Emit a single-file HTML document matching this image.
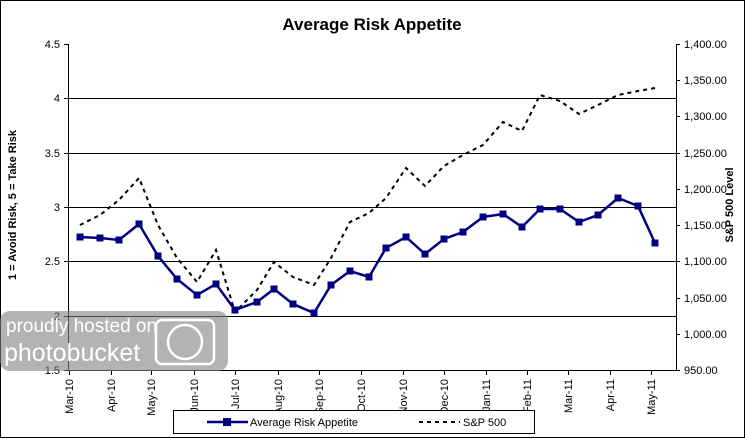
<!DOCTYPE html>
<html><head><style>body{margin:0;background:#fff}svg{display:block}</style></head><body>
<svg width="745" height="438" xmlns="http://www.w3.org/2000/svg" font-family="Liberation Sans, sans-serif">
<rect x="0.5" y="0.5" width="744" height="437" fill="#fff" stroke="#000"/>
<text x="372" y="30" text-anchor="middle" font-size="17" font-weight="bold">Average Risk Appetite</text>
<g stroke="#000" stroke-width="1">
<line x1="68" y1="98.5" x2="676" y2="98.5"/>
<line x1="68" y1="153.5" x2="676" y2="153.5"/>
<line x1="68" y1="207.5" x2="676" y2="207.5"/>
<line x1="68" y1="261.5" x2="676" y2="261.5"/>
<line x1="68" y1="316.5" x2="676" y2="316.5"/>
<line x1="68.5" y1="44" x2="68.5" y2="370"/>
<line x1="676.5" y1="44" x2="676.5" y2="370"/>
<line x1="68" y1="370.5" x2="676" y2="370.5"/>
<path d="M64 44.5h4M64 98.5h4M64 153.5h4M64 207.5h4M64 261.5h4M64 316.5h4M64 370.5h4"/>
<path d="M676 44.5h4M676 80.5h4M676 116.5h4M676 153.5h4M676 189.5h4M676 225.5h4M676 261.5h4M676 298.5h4M676 334.5h4M676 370.5h4"/>
<path d="M69.5 370v5M111.5 370v5M151.5 370v5M194.5 370v5M235.5 370v5M278.5 370v5M319.5 370v5M361.5 370v5M403.5 370v5M444.5 370v5M486.5 370v5M527.5 370v5M568.5 370v5M610.5 370v5M651.5 370v5"/>
</g>
<g font-size="11" text-anchor="end">
<text x="60" y="48">4.5</text><text x="60" y="102">4</text><text x="60" y="157">3.5</text><text x="60" y="211">3</text><text x="60" y="265">2.5</text><text x="60" y="320">2</text><text x="60" y="374">1.5</text>
</g>
<g font-size="11">
<text x="684" y="48">1,400.00</text><text x="684" y="84">1,350.00</text><text x="684" y="120">1,300.00</text><text x="684" y="157">1,250.00</text><text x="684" y="193">1,200.00</text><text x="684" y="229">1,150.00</text><text x="684" y="265">1,100.00</text><text x="684" y="302">1,050.00</text><text x="684" y="338">1,000.00</text><text x="684" y="374">950.00</text>
</g>
<text transform="translate(16,205) rotate(-90)" text-anchor="middle" font-size="11" font-weight="bold">1 = Avoid Risk, 5 = Take Risk</text>
<text transform="translate(733,205) rotate(-90)" text-anchor="middle" font-size="11" font-weight="bold">S&amp;P 500 Level</text>
<g font-size="11" text-anchor="end">
<text transform="translate(73,379) rotate(-90)">Mar-10</text><text transform="translate(115,379) rotate(-90)">Apr-10</text><text transform="translate(155,379) rotate(-90)">May-10</text><text transform="translate(198,379) rotate(-90)">Jun-10</text><text transform="translate(239,379) rotate(-90)">Jul-10</text><text transform="translate(282,379) rotate(-90)">Aug-10</text><text transform="translate(323,379) rotate(-90)">Sep-10</text><text transform="translate(365,379) rotate(-90)">Oct-10</text><text transform="translate(407,379) rotate(-90)">Nov-10</text><text transform="translate(448,379) rotate(-90)">Dec-10</text><text transform="translate(490,379) rotate(-90)">Jan-11</text><text transform="translate(531,379) rotate(-90)">Feb-11</text><text transform="translate(572,379) rotate(-90)">Mar-11</text><text transform="translate(614,379) rotate(-90)">Apr-11</text><text transform="translate(655,379) rotate(-90)">May-11</text>
</g>
<polyline fill="none" stroke="#000" stroke-width="2" stroke-dasharray="4,4" points="80,225 100,215 119,200 139,178 158,225 177,258 197,282 216,250 235,312 257,290 274,262 293,277 314,285 331,258 350,222 369,213 386,198 406,168 425,186 444,166 463,155 483,145 503,122 522,131 540,95 560,101 579,114 598,105 618,95 638,91 655,88"/>
<g fill="#000080">
<polyline fill="none" stroke="#000080" stroke-width="2.5" points="80,237 100,238 119,240 139,224 158,256 177,279 197,295 216,284 235,310 257,302 274,289 293,304 314,313 331,285 350,271 369,277 386,248 406,237 425,254 444,239 463,232 483,217 503,214 522,227 540,209 560,209 579,222 598,215 618,198 638,206 655,243"/>
<g transform="translate(-3.5,-3.5)">
<rect x="80" y="237" width="7" height="7"/><rect x="100" y="238" width="7" height="7"/><rect x="119" y="240" width="7" height="7"/><rect x="139" y="224" width="7" height="7"/><rect x="158" y="256" width="7" height="7"/><rect x="177" y="279" width="7" height="7"/><rect x="197" y="295" width="7" height="7"/><rect x="216" y="284" width="7" height="7"/><rect x="235" y="310" width="7" height="7"/><rect x="257" y="302" width="7" height="7"/><rect x="274" y="289" width="7" height="7"/><rect x="293" y="304" width="7" height="7"/><rect x="314" y="313" width="7" height="7"/><rect x="331" y="285" width="7" height="7"/><rect x="350" y="271" width="7" height="7"/><rect x="369" y="277" width="7" height="7"/><rect x="386" y="248" width="7" height="7"/><rect x="406" y="237" width="7" height="7"/><rect x="425" y="254" width="7" height="7"/><rect x="444" y="239" width="7" height="7"/><rect x="463" y="232" width="7" height="7"/><rect x="483" y="217" width="7" height="7"/><rect x="503" y="214" width="7" height="7"/><rect x="522" y="227" width="7" height="7"/><rect x="540" y="209" width="7" height="7"/><rect x="560" y="209" width="7" height="7"/><rect x="579" y="222" width="7" height="7"/><rect x="598" y="215" width="7" height="7"/><rect x="618" y="198" width="7" height="7"/><rect x="638" y="206" width="7" height="7"/><rect x="655" y="243" width="7" height="7"/>
</g></g>
<rect x="0" y="311" width="228" height="60" rx="10" fill="#808080" fill-opacity="0.6"/>
<text x="6" y="332" font-size="19" fill="#fff">proudly hosted on</text>
<text x="4" y="361" font-size="25" fill="#fff">photobucket</text>
<rect x="156" y="320" width="58" height="44" rx="6" fill="none" stroke="#fff" stroke-width="2.5"/>
<circle cx="185" cy="342" r="17" fill="none" stroke="#fff" stroke-width="2.5"/>
<rect x="173.5" y="410.5" width="361" height="23" fill="#fff" stroke="#000"/>
<line x1="207" y1="422" x2="248" y2="422" stroke="#000080" stroke-width="2.5"/>
<rect x="223" y="418" width="8" height="8" fill="#000080"/>
<text x="250" y="426" font-size="11">Average Risk Appetite</text>
<line x1="419" y1="422" x2="460" y2="422" stroke="#000" stroke-width="2" stroke-dasharray="4,4"/>
<text x="463" y="426" font-size="11">S&amp;P 500</text>
</svg>
</body></html>
